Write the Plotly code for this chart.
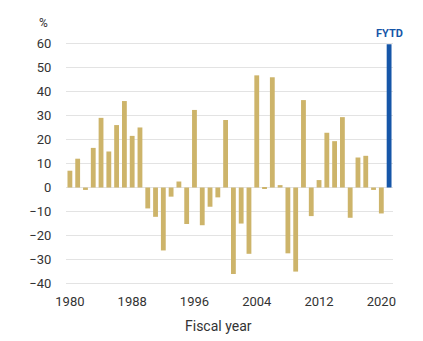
import plotly.graph_objects as go

years = list(range(1980, 2022))
values = [7, 12, -1, 16.5, 29, 15, 26, 36, 21.5, 25,
          -8.7, -12.2, -26.2, -3.8, 2.5, -15.2, 32.3, -15.7, -8, -4.1,
          28.1, -36, -15, -27.6, 46.7, -0.3, 45.9, 1.0, -27.4, -35,
          36.4, -11.9, 3.1, 22.8, 19.3, 29.3, -12.6, 12.5, 13.2, -1,
          -10.8, 59.6]
x_ticks = [1980, 1988, 1996, 2004, 2012, 2020]
y_ticks = [-40, -30, -20, -10, 0, 10, 20, 30, 40, 50, 60]
fytd_label = "FYTD"

gold = "#CDB46A"
blue = "#1656A8"
colors = [gold] * (len(years) - 1) + [blue]

fig = go.Figure(go.Bar(x=years, y=values, marker=dict(color=colors, line=dict(width=0)),
                       width=0.62))

fig.update_layout(
    width=423, height=341,
    margin=dict(l=66, r=30, t=41, b=55),
    paper_bgcolor="white", plot_bgcolor="white",
    showlegend=False,
    font=dict(family="Roboto", size=13, color="#333333"),
    xaxis=dict(range=[1979.5, 2021.5], tickmode="array", tickvals=x_ticks,
               showgrid=False, zeroline=False, showline=False,
               ticks="outside", ticklen=3, tickcolor="rgba(0,0,0,0)",
               tickfont=dict(size=13)),
    yaxis=dict(range=[-41, 61], tickmode="array", tickvals=y_ticks,
               showgrid=True, gridcolor="#E3E3E3", gridwidth=1,
               zeroline=False, showline=False,
               ticks="outside", ticklen=11, tickcolor="rgba(0,0,0,0)",
               tickfont=dict(size=13)),
    annotations=[
        dict(text="%", xref="paper", yref="paper", x=-0.07, y=1.075,
             showarrow=False, xanchor="center", yanchor="middle", font=dict(size=12)),
        dict(text="Fiscal year", xref="paper", yref="paper", x=0.467, y=-0.122,
             showarrow=False, xanchor="center", yanchor="top", font=dict(size=14)),
        dict(text="<b>" + fytd_label + "</b>", x=years[-1], y=values[-1], xref="x", yref="y",
             showarrow=False, xanchor="center", yanchor="bottom", yshift=2,
             font=dict(size=11, color=blue)),
    ],
)

fig.write_html("out.html")
